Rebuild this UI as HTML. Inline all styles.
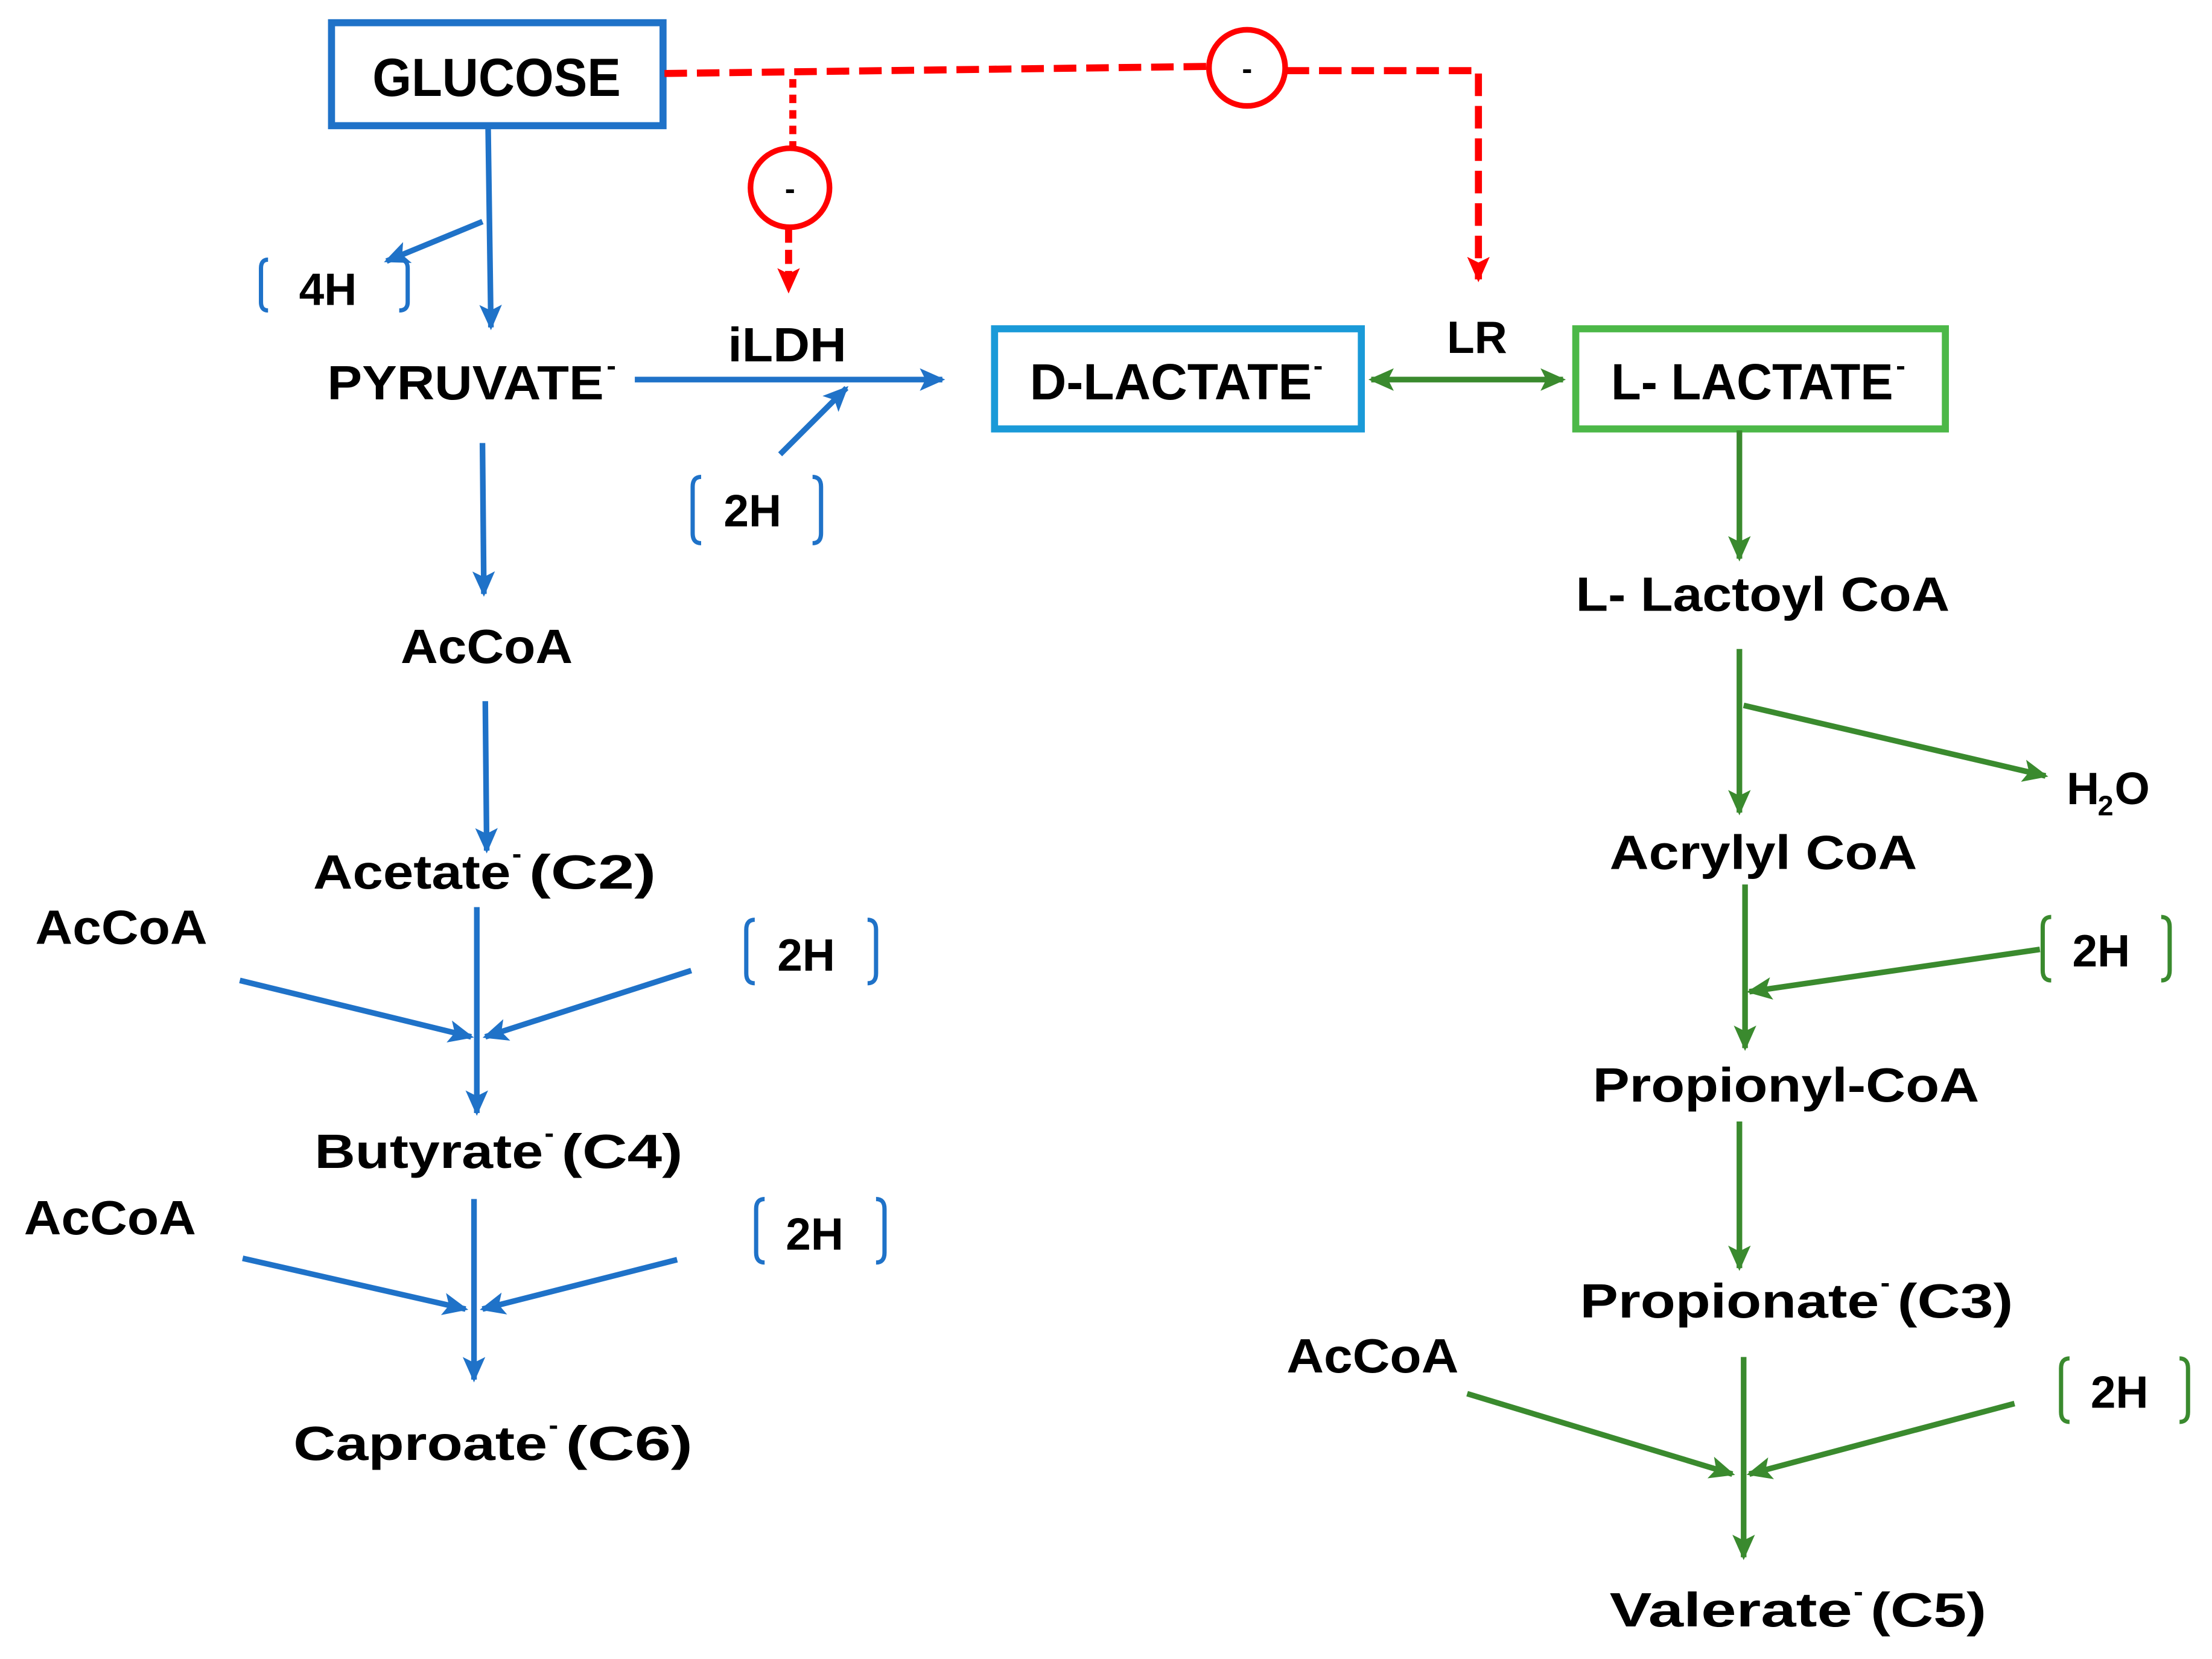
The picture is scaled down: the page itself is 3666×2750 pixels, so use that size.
<!DOCTYPE html>
<html><head><meta charset="utf-8"><style>
html,body{margin:0;padding:0;background:#fff;}
svg{display:block}
text{font-family:"Liberation Sans",sans-serif;font-weight:bold;fill:#000}
</style></head><body>
<svg width="3666" height="2750" viewBox="0 0 1568 1176" xmlns="http://www.w3.org/2000/svg">
<defs>
<marker id="ab" markerWidth="18" markerHeight="16" refX="16" refY="8" orient="auto" markerUnits="userSpaceOnUse" viewBox="0 0 18 16"><path d="M0,0 L18,8 L0,16 L4,8 z" fill="#1f72c8"/></marker>
<marker id="ag" markerWidth="18" markerHeight="16" refX="16" refY="8" orient="auto" markerUnits="userSpaceOnUse" viewBox="0 0 18 16"><path d="M0,0 L18,8 L0,16 L4,8 z" fill="#3a8a2e"/></marker>
<marker id="agr" markerWidth="18" markerHeight="16" refX="2" refY="8" orient="auto" markerUnits="userSpaceOnUse" viewBox="0 0 18 16"><path d="M18,0 L0,8 L18,16 L14,8 z" fill="#3a8a2e"/></marker>
<marker id="ar" markerWidth="18" markerHeight="16" refX="16" refY="8" orient="auto" markerUnits="userSpaceOnUse" viewBox="0 0 18 16"><path d="M0,0 L18,8 L0,16 L4,8 z" fill="#ff0000"/></marker>
</defs>

<rect x="235" y="16" width="235" height="73" fill="none" stroke="#1f72c8" stroke-width="5"/>
<text x="352" y="68" font-size="38" text-anchor="middle" textLength="176" lengthAdjust="spacingAndGlyphs">GLUCOSE</text>
<rect x="705" y="233" width="260" height="71" fill="none" stroke="#1a9ad8" stroke-width="5"/>
<text x="730" y="283" font-size="36" textLength="200" lengthAdjust="spacingAndGlyphs">D-LACTATE</text><text x="931" y="266" font-size="20">-</text>
<rect x="1117" y="233" width="262" height="71" fill="none" stroke="#4cb848" stroke-width="5"/>
<text x="1142" y="283" font-size="36" textLength="200" lengthAdjust="spacingAndGlyphs">L- LACTATE</text><text x="1344" y="266" font-size="20">-</text>

<g stroke="#1f72c8" stroke-width="4" fill="none">
<line x1="346" y1="90" x2="348" y2="232" marker-end="url(#ab)"/>
<line x1="342" y1="157" x2="274" y2="185" marker-end="url(#ab)"/>
<line x1="450" y1="269" x2="668" y2="269" marker-end="url(#ab)"/>
<line x1="553" y1="322" x2="600" y2="275" marker-end="url(#ab)"/>
<line x1="342" y1="314" x2="343" y2="421" marker-end="url(#ab)"/>
<line x1="344" y1="497" x2="345" y2="603" marker-end="url(#ab)"/>
<line x1="338" y1="643" x2="338" y2="789" marker-end="url(#ab)"/>
<line x1="170" y1="695" x2="334" y2="735" marker-end="url(#ab)"/>
<line x1="490" y1="688" x2="344" y2="735" marker-end="url(#ab)"/>
<line x1="336" y1="850" x2="336" y2="978" marker-end="url(#ab)"/>
<line x1="172" y1="892" x2="330" y2="928" marker-end="url(#ab)"/>
<line x1="480" y1="893" x2="342" y2="928" marker-end="url(#ab)"/>
</g>
<g stroke="#1f72c8" stroke-width="3" fill="none">
<path d="M190,184 Q185,184 185,190 L185,214 Q185,220 190,220"/><path d="M283,184 Q289,184 289,190 L289,214 Q289,220 283,220"/>
<path d="M497,338 Q491,338 491,345 L491,378 Q491,385 497,385"/><path d="M576,338 Q582,338 582,345 L582,378 Q582,385 576,385"/>
<path d="M535,652 Q529,652 529,659 L529,690 Q529,697 535,697"/><path d="M615,652 Q621,652 621,659 L621,690 Q621,697 615,697"/>
<path d="M542,850 Q536,850 536,857 L536,888 Q536,895 542,895"/><path d="M621,850 Q627,850 627,857 L627,888 Q627,895 621,895"/>
</g>
<g stroke="#3a8a2e" stroke-width="3" fill="none">
<path d="M1454,650 Q1448,650 1448,657 L1448,688 Q1448,695 1454,695"/><path d="M1532,650 Q1538,650 1538,657 L1538,688 Q1538,695 1532,695"/>
<path d="M1467,963 Q1461,963 1461,970 L1461,1001 Q1461,1008 1467,1008"/><path d="M1545,963 Q1551,963 1551,970 L1551,1001 Q1551,1008 1545,1008"/>
</g>

<g stroke="#3a8a2e" stroke-width="4" fill="none">
<line x1="972" y1="269" x2="1108" y2="269" marker-end="url(#ag)" marker-start="url(#agr)"/>
<line x1="1233" y1="305" x2="1233" y2="396" marker-end="url(#ag)"/>
<line x1="1233" y1="460" x2="1233" y2="576" marker-end="url(#ag)"/>
<line x1="1236" y1="500" x2="1450" y2="550" marker-end="url(#ag)"/>
<line x1="1237" y1="627" x2="1237" y2="743" marker-end="url(#ag)"/>
<line x1="1446" y1="673" x2="1240" y2="703" marker-end="url(#ag)"/>
<line x1="1233" y1="795" x2="1233" y2="899" marker-end="url(#ag)"/>
<line x1="1236" y1="962" x2="1236" y2="1104" marker-end="url(#ag)"/>
<line x1="1040" y1="988" x2="1228" y2="1045" marker-end="url(#ag)"/>
<line x1="1428" y1="995" x2="1240" y2="1045" marker-end="url(#ag)"/>
</g>

<g stroke="#ff0000" stroke-width="5" fill="none">
<polyline points="471,52 855,47" stroke-dasharray="16,7"/>
<polyline points="912,50 1048,50 1048,198" stroke-dasharray="16,7" marker-end="url(#ar)"/>
<line x1="562" y1="56" x2="562" y2="104" stroke-dasharray="6,5"/>
<line x1="559" y1="162" x2="559" y2="206" stroke-dasharray="10,5" marker-end="url(#ar)"/>
<circle cx="884" cy="48" r="27" stroke-width="4"/>
<circle cx="560" cy="133" r="28" stroke-width="4"/>
</g>
<text x="884" y="56" font-size="22" text-anchor="middle">-</text>
<text x="560" y="141" font-size="22" text-anchor="middle">-</text>

<g font-size="34">
<text x="212" y="216" font-size="32">4H</text>
<text x="232" y="283" textLength="196" lengthAdjust="spacingAndGlyphs">PYRUVATE</text><text x="430" y="266" font-size="20">-</text>
<text x="558" y="256" text-anchor="middle" textLength="84" lengthAdjust="spacingAndGlyphs">iLDH</text>
<text x="1047" y="250" text-anchor="middle" font-size="32">LR</text>
<text x="513" y="373" font-size="32">2H</text>
<text x="345" y="470" text-anchor="middle" textLength="122" lengthAdjust="spacingAndGlyphs">AcCoA</text>
<text x="222" y="630" textLength="140" lengthAdjust="spacingAndGlyphs">Acetate</text><text x="363" y="612" font-size="20">-</text><text x="375" y="630" textLength="90" lengthAdjust="spacingAndGlyphs">(C2)</text>
<text x="25" y="669" textLength="122" lengthAdjust="spacingAndGlyphs">AcCoA</text>
<text x="551" y="688" font-size="32">2H</text>
<text x="223" y="828" textLength="162" lengthAdjust="spacingAndGlyphs">Butyrate</text><text x="386" y="810" font-size="20">-</text><text x="398" y="828" textLength="86" lengthAdjust="spacingAndGlyphs">(C4)</text>
<text x="17" y="875" textLength="122" lengthAdjust="spacingAndGlyphs">AcCoA</text>
<text x="557" y="886" font-size="32">2H</text>
<text x="208" y="1035" textLength="180" lengthAdjust="spacingAndGlyphs">Caproate</text><text x="389" y="1017" font-size="20">-</text><text x="401" y="1035" textLength="90" lengthAdjust="spacingAndGlyphs">(C6)</text>
<text x="1117" y="433" textLength="265" lengthAdjust="spacingAndGlyphs">L- Lactoyl CoA</text>
<text x="1465" y="570" font-size="32">H</text><text x="1487" y="578" font-size="20">2</text><text x="1499" y="570" font-size="32">O</text>
<text x="1141" y="616" textLength="218" lengthAdjust="spacingAndGlyphs">Acrylyl CoA</text>
<text x="1469" y="685" font-size="32">2H</text>
<text x="1129" y="781" textLength="274" lengthAdjust="spacingAndGlyphs">Propionyl-CoA</text>
<text x="1120" y="934" textLength="212" lengthAdjust="spacingAndGlyphs">Propionate</text><text x="1333" y="916" font-size="20">-</text><text x="1345" y="934" textLength="82" lengthAdjust="spacingAndGlyphs">(C3)</text>
<text x="912" y="973" textLength="122" lengthAdjust="spacingAndGlyphs">AcCoA</text>
<text x="1482" y="998" font-size="32">2H</text>
<text x="1141" y="1153" textLength="172" lengthAdjust="spacingAndGlyphs">Valerate</text><text x="1314" y="1135" font-size="20">-</text><text x="1326" y="1153" textLength="82" lengthAdjust="spacingAndGlyphs">(C5)</text>
</g>
</svg>
</body></html>
